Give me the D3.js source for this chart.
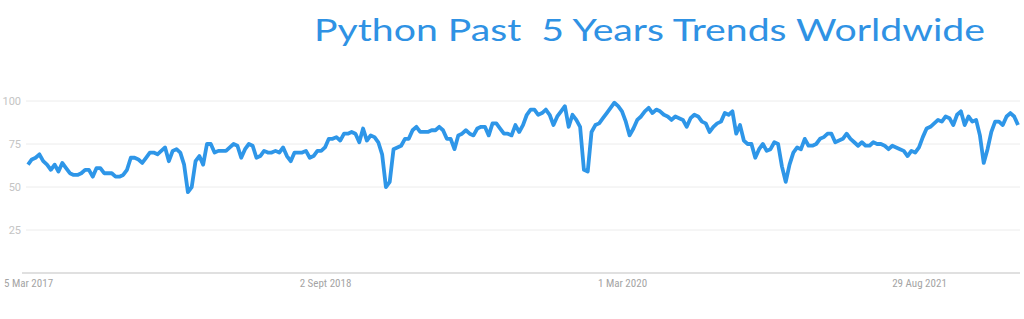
<!DOCTYPE html>
<html>
<head>
<meta charset="utf-8">
<script src="https://cdn.jsdelivr.net/npm/d3@7"></script>
<style>
  body{margin:0;background:#fff;}
  svg{display:block;}
</style>
</head>
<body>
<div id="chart"></div>
<script>
// weekly interest values (Google Trends style, 0-100), first week 5 Mar 2017
let startDate=new Date(2017,2,5)
let interest=[
  63,66,67,69,65,63,60,63,59,64,61,58,57,57,58,60,60,56,61,61,
  58,58,58,56,56,57,60,67,67,66,64,67,70,70,69,71,73,65,71,72,
  70,63,47,50,65,68,63,75,75,70,71,71,71,73,75,74,67,72,75,74,
  67,68,71,70,70,71,70,73,68,65,70,70,70,71,67,68,71,71,73,78,
  78,79,77,81,81,82,81,76,84,77,80,79,76,69,50,53,72,73,74,78,
  78,83,85,82,82,82,83,83,85,83,78,78,72,80,81,83,81,80,84,85,
  85,80,87,87,84,81,81,80,86,82,86,92,95,95,92,93,95,92,86,91,
  94,97,85,92,89,85,60,59,82,86,87,90,93,96,99,97,94,88,80,84,
  89,91,94,96,93,95,94,92,91,89,91,90,89,85,90,92,91,88,87,82,
  85,87,88,93,92,94,81,86,77,75,75,67,72,75,71,72,76,75,62,53,
  63,70,73,72,78,74,74,75,78,79,81,81,76,77,78,81,78,76,74,76,
  74,74,76,75,75,74,72,74,73,72,71,68,71,70,73,79,84,85,87,89,
  88,91,90,86,92,94,86,91,88,89,80,64,72,82,88,88,86,91,93,91,
  86
]
let yTicks=[25,50,75,100]
let xTickDates=[new Date(2017,2,5),new Date(2018,8,2),new Date(2020,2,1),new Date(2021,7,29)]
let xTickLabels=["5 Mar 2017","2 Sept 2018","1 Mar 2020","29 Aug 2021"]
let title="Python Past  5 Years Trends Worldwide"

let data=interest.map((v,i)=>({date:d3.timeDay.offset(startDate,i*7),value:v}))

let width=1024
let height=319
let padLeft=28, padRight=1018, padTop=101, padBottom=273

const svg=d3.select("#chart").append("svg").attr("width",width).attr("height",height)

let xScale=d3.scaleTime().domain([data[0].date,data[data.length-1].date]).range([padLeft,padRight])
let yScale=d3.scaleLinear().domain([0,100]).range([padBottom,padTop])

//title
svg.append("text").attr("x",314).attr("y",41).text(title)
   .attr("font-family","Lato, 'Open Sans', sans-serif").attr("font-size",30)
   .attr("fill","#2f92e4").attr("textLength",671).attr("lengthAdjust","spacingAndGlyphs")
   .style("white-space","pre")

//grid lines + y labels
let grid=svg.append("g").attr("id","y-axis")
yTicks.forEach(t=>{
    grid.append("line").attr("x1",26).attr("x2",1020).attr("y1",yScale(t)).attr("y2",yScale(t))
        .attr("stroke","#ececec").attr("stroke-width",1)
    grid.append("text").attr("x",21).attr("y",yScale(t)+4).attr("text-anchor","end")
        .attr("font-family","Roboto, sans-serif").attr("font-size",11).attr("fill","#c4c4c4").text(t)
})

//x axis line
svg.append("line").attr("x1",22).attr("x2",1020).attr("y1",padBottom).attr("y2",padBottom)
   .attr("stroke","#d6d6d6").attr("stroke-width",1.5)

let xAxis=d3.axisBottom(xScale).tickValues(xTickDates).tickSize(0).tickFormat((d,i)=>xTickLabels[i])
let gx=svg.append("g").attr("id","x-axis").attr("transform",`translate(0,${padBottom})`).call(xAxis)
gx.select(".domain").remove()
gx.selectAll("text").attr("dy",0).attr("y",14).attr("font-family","'Roboto Condensed', 'Liberation Sans Narrow', Roboto, sans-serif")
  .attr("font-size",11).attr("fill","#a4a4a4").style("font-stretch","condensed")

//the line
let line=d3.line().x(d=>xScale(d.date)).y(d=>yScale(d.value))
svg.append("path").datum(data).attr("d",line).attr("fill","none")
   .attr("stroke","#2e96e8").attr("stroke-width",3.8).attr("stroke-linejoin","round")
</script>
</body>
</html>
